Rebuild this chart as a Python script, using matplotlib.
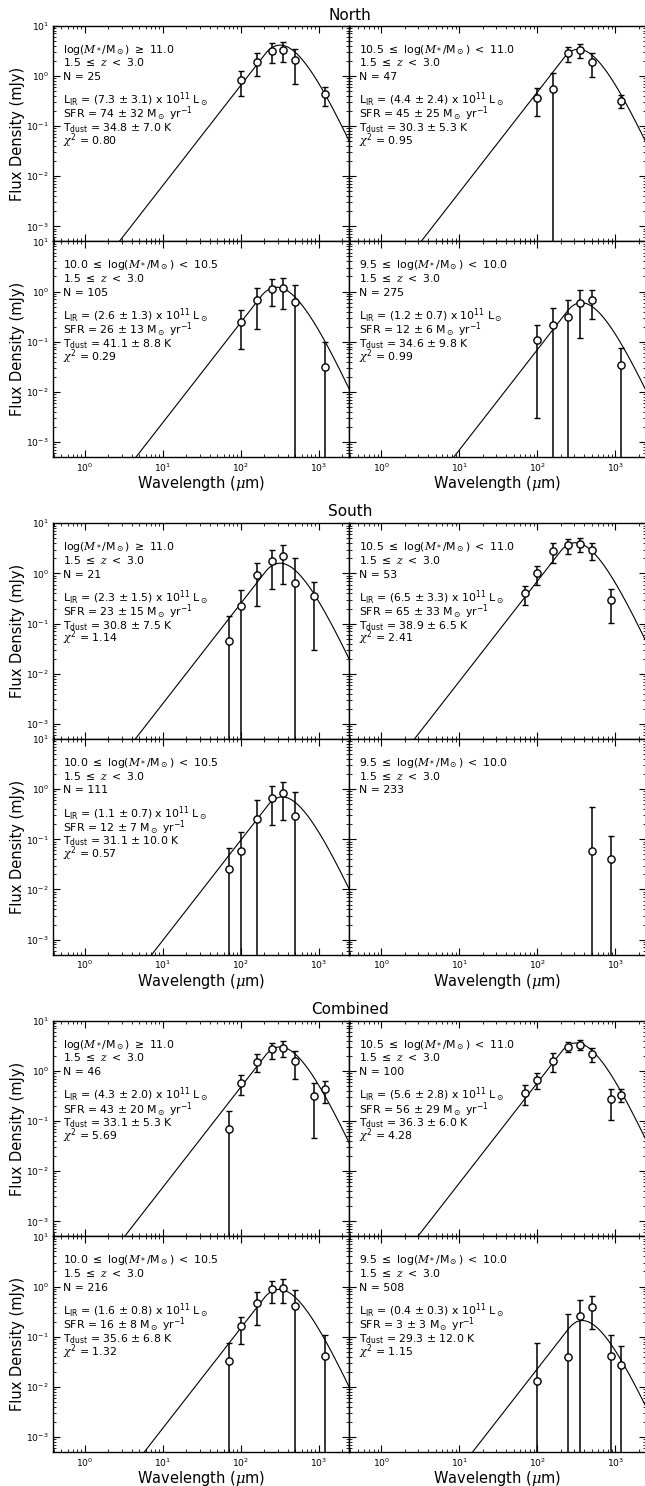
import numpy as np
import matplotlib
matplotlib.use('Agg')
import matplotlib.pyplot as plt
from matplotlib.ticker import LogLocator, NullFormatter

plt.rcParams.update({
    'font.family': ['DejaVu Sans'],
    'mathtext.fontset': 'custom',
    'mathtext.rm': 'DejaVu Sans',
    'mathtext.it': 'DejaVu Serif:italic',
    'mathtext.bf': 'DejaVu Sans:bold',
    'mathtext.sf': 'DejaVu Sans',
})

nan = np.nan

# ---------------- data ----------------
group_titles = ['North', 'South', 'Combined']

wave_north = [100, 160, 250, 350, 500, 1200]
wave_south = [70, 100, 160, 250, 350, 500, 870]
wave_comb = [70, 100, 160, 250, 350, 500, 870, 1200]

mass_bins = [r'log($M_*$/M$_\odot$) $\geq$ 11.0',
             r'10.5 $\leq$ log($M_*$/M$_\odot$) $<$ 11.0',
             r'10.0 $\leq$ log($M_*$/M$_\odot$) $<$ 10.5',
             r'9.5 $\leq$ log($M_*$/M$_\odot$) $<$ 10.0']
z_bin = r'1.5 $\leq$ $z$ $<$ 3.0'

north_flux = [[0.83, 1.9, 3.2, 3.3, 2.05, 0.425],
              [0.36, 0.54, 2.83, 3.29, 1.9, 0.32],
              [0.25, 0.68, 1.13, 1.17, 0.63, 0.0306],
              [0.108, 0.217, 0.318, 0.59, 0.68, 0.0347]]
north_err = [[0.43, 0.9, 1.37, 1.37, 1.35, 0.18],
             [0.2, 0.62, 0.95, 1.05, 0.95, 0.09],
             [0.18, 0.5, 0.62, 0.72, 0.73, 0.067],
             [0.105, 0.26, 0.36, 0.47, 0.4, 0.04]]
south_flux = [[0.044, 0.226, 0.93, 1.74, 2.18, 0.64, 0.35],
              [0.406, 1.02, 2.84, 3.62, 3.87, 2.93, 0.30],
              [0.025, 0.058, 0.25, 0.68, 0.82, 0.29, nan],
              [nan, nan, nan, nan, nan, 0.058, 0.041]]
south_err = [[0.095, 0.235, 0.71, 1.25, 1.57, 1.42, 0.32],
             [0.166, 0.42, 1.2, 1.2, 1.2, 1.1, 0.195],
             [0.043, 0.082, 0.35, 0.49, 0.58, 0.59, nan],
             [nan, nan, nan, nan, nan, 0.38, 0.074]]
comb_flux = [[0.069, 0.585, 1.53, 2.69, 2.87, 1.6, 0.31, 0.425],
             [0.37, 0.66, 1.6, 3.04, 3.33, 2.18, 0.273, 0.333],
             [0.0327, 0.16, 0.48, 0.885, 0.94, 0.41, nan, 0.0417],
             [nan, 0.0128, nan, 0.0385, 0.264, 0.40, 0.0417, 0.0272]]
comb_err = [[0.088, 0.25, 0.6, 0.95, 1.01, 0.9, 0.265, 0.195],
            [0.163, 0.23, 0.65, 0.68, 0.72, 0.7, 0.168, 0.093],
            [0.042, 0.09, 0.31, 0.42, 0.47, 0.45, nan, 0.067],
            [nan, 0.062, nan, 0.25, 0.28, 0.255, 0.067, 0.039]]

# fitted-SED curve: observed peak wavelength (um) and peak flux (mJy)
north_peak_wave = [318, 338, 287, 369]
north_peak_flux = [4.1, 3.4, 1.22, 0.6]
south_peak_wave = [318, 308, 338, nan]
south_peak_flux = [1.6, 4.1, 0.7, nan]
comb_peak_wave = [318, 318, 308, 379]
comb_peak_flux = [3.0, 3.6, 0.88, 0.21]

north_n = [25, 47, 105, 275]
south_n = [21, 53, 111, 233]
comb_n = [46, 100, 216, 508]

north_lir = ['7.3 $\\pm$ 3.1', '4.4 $\\pm$ 2.4', '2.6 $\\pm$ 1.3', '1.2 $\\pm$ 0.7']
south_lir = ['2.3 $\\pm$ 1.5', '6.5 $\\pm$ 3.3', '1.1 $\\pm$ 0.7', None]
comb_lir = ['4.3 $\\pm$ 2.0', '5.6 $\\pm$ 2.8', '1.6 $\\pm$ 0.8', '0.4 $\\pm$ 0.3']
north_sfr = ['74 $\\pm$ 32', '45 $\\pm$ 25', '26 $\\pm$ 13', '12 $\\pm$ 6']
south_sfr = ['23 $\\pm$ 15', '65 $\\pm$ 33', '12 $\\pm$ 7', None]
comb_sfr = ['43 $\\pm$ 20', '56 $\\pm$ 29', '16 $\\pm$ 8', '3 $\\pm$ 3']
north_tdust = ['34.8 $\\pm$ 7.0', '30.3 $\\pm$ 5.3', '41.1 $\\pm$ 8.8', '34.6 $\\pm$ 9.8']
south_tdust = ['30.8 $\\pm$ 7.5', '38.9 $\\pm$ 6.5', '31.1 $\\pm$ 10.0', None]
comb_tdust = ['33.1 $\\pm$ 5.3', '36.3 $\\pm$ 6.0', '35.6 $\\pm$ 6.8', '29.3 $\\pm$ 12.0']
north_chi2 = ['0.80', '0.95', '0.29', '0.99']
south_chi2 = ['1.14', '2.41', '0.57', None]
comb_chi2 = ['5.69', '4.28', '1.32', '1.15']

xlim = (0.39, 2450)
ylim = (5e-4, 10)


# ---------------- model SED (greybody + mid-IR power law) ----------------
def greybody(lam, T, beta=1.5, lam0=600.0):
    return (1 - np.exp(-(lam0 / lam) ** beta)) * lam ** -3 / np.expm1(14388.0 / (lam * T))


def sed_curve(lam, lam_peak, s_peak, alpha=2.0):
    fine = np.logspace(0.5, 4, 4000)
    lo, hi = 1.0, 100.0
    for _ in range(60):
        T = 0.5 * (lo + hi)
        pk = fine[np.argmax(greybody(fine, T))]
        if pk > lam_peak:
            lo = T
        else:
            hi = T
    g = greybody(fine, T)
    slope = np.gradient(np.log(g), np.log(fine))
    ip = np.argmax(g)
    it = np.where(slope[:ip] >= alpha)[0][-1]
    lam_t = fine[it]
    g_t = g[it]
    out = np.where(lam >= lam_t, greybody(lam, T), g_t * (lam / lam_t) ** alpha)
    return out / g.max() * s_peak


# ---------------- layout ----------------
W, H = 645.0, 1486.0
fig = plt.figure(figsize=(W / 100, H / 100), dpi=100)

x_left = [53.0, 349.3]
pw = 296.3
ph = 215.7
group_tops = [25.7, 523.3, 1020.7]
title_y = [15.5, 511.5, 1009.0]
xlabel_y = [483.5, 981.5, 1478.0]

groups = [
    (wave_north, north_flux, north_err, north_peak_wave, north_peak_flux, north_n,
     north_lir, north_sfr, north_tdust, north_chi2),
    (wave_south, south_flux, south_err, south_peak_wave, south_peak_flux, south_n,
     south_lir, south_sfr, south_tdust, south_chi2),
    (wave_comb, comb_flux, comb_err, comb_peak_wave, comb_peak_flux, comb_n,
     comb_lir, comb_sfr, comb_tdust, comb_chi2),
]

lam_grid = np.logspace(-0.6, 3.6, 800)
baselines = [27.0, 40.7, 54.4, 78.5, 92.4, 105.6, 118.8]

for g, (wave, flux, err, pkw, pkf, nn, lir, sfr, td, chi) in enumerate(groups):
    for k in range(4):
        row, col = divmod(k, 2)
        top = group_tops[g] + row * ph
        ax = fig.add_axes([x_left[col] / W, 1 - (top + ph) / H, pw / W, ph / H])
        ax.set_xscale('log')
        ax.set_yscale('log')
        ax.set_xlim(*xlim)
        ax.set_ylim(*ylim)

        if not np.isnan(pkw[k]):
            ax.plot(lam_grid, sed_curve(lam_grid, pkw[k], pkf[k]), color='black', lw=0.8, zorder=2)

        w = np.array(wave, float)
        f = np.array(flux[k], float)
        e = np.array(err[k], float)
        m = ~np.isnan(f)
        ax.errorbar(w[m], f[m], yerr=e[m], fmt='o', ms=5.2, mfc='white', mec='black', mew=1.0,
                    ecolor='black', elinewidth=1.1, capsize=2.3, capthick=1.1, zorder=3)

        # annotation text
        tx = 9.7 / pw
        lines = [mass_bins[k], z_bin, 'N = %d' % nn[k]]
        if lir[k] is not None:
            lines += [r'L$_{\rm IR}$ = (' + lir[k] + r') x 10$^{11}$ L$_\odot$',
                      'SFR = ' + sfr[k] + r' M$_\odot$ yr$^{-1}$',
                      r'T$_{\rm dust}$ = ' + td[k] + ' K',
                      r'$\chi^2$ = ' + chi[k]]
        for i, s in enumerate(lines):
            ax.text(tx, 1 - baselines[i] / ph, s, transform=ax.transAxes, fontsize=7.8,
                    va='baseline', ha='left', color='black')

        ax.xaxis.set_major_locator(LogLocator(base=10, numticks=20))
        ax.xaxis.set_minor_locator(LogLocator(base=10, subs=np.arange(2, 10), numticks=20))
        ax.yaxis.set_major_locator(LogLocator(base=10, numticks=20))
        ax.yaxis.set_minor_locator(LogLocator(base=10, subs=np.arange(2, 10), numticks=20))
        ax.xaxis.set_minor_formatter(NullFormatter())
        ax.yaxis.set_minor_formatter(NullFormatter())
        ax.tick_params(which='both', direction='in', top=True, right=True, labelsize=6.6, pad=3)
        ax.tick_params(which='major', length=5, width=0.8)
        ax.tick_params(which='minor', length=2.5, width=0.6)
        if row == 0:
            ax.tick_params(labelbottom=False)
        if col == 1:
            ax.tick_params(labelleft=False)
        for sp in ax.spines.values():
            sp.set_linewidth(1.0)

        if col == 0:
            fig.text(17.7 / W, 1 - (top + ph / 2) / H, 'Flux Density (mJy)', rotation=90,
                     ha='center', va='center', fontsize=10.5)

    for col in range(2):
        fig.text((x_left[col] + pw / 2) / W, 1 - xlabel_y[g] / H, r'Wavelength ($\mu$m)',
                 ha='center', va='center', fontsize=10.5)
    fig.text(350 / W, 1 - title_y[g] / H, group_titles[g], ha='center', va='center', fontsize=11)

fig.savefig('out.png', dpi=100)
